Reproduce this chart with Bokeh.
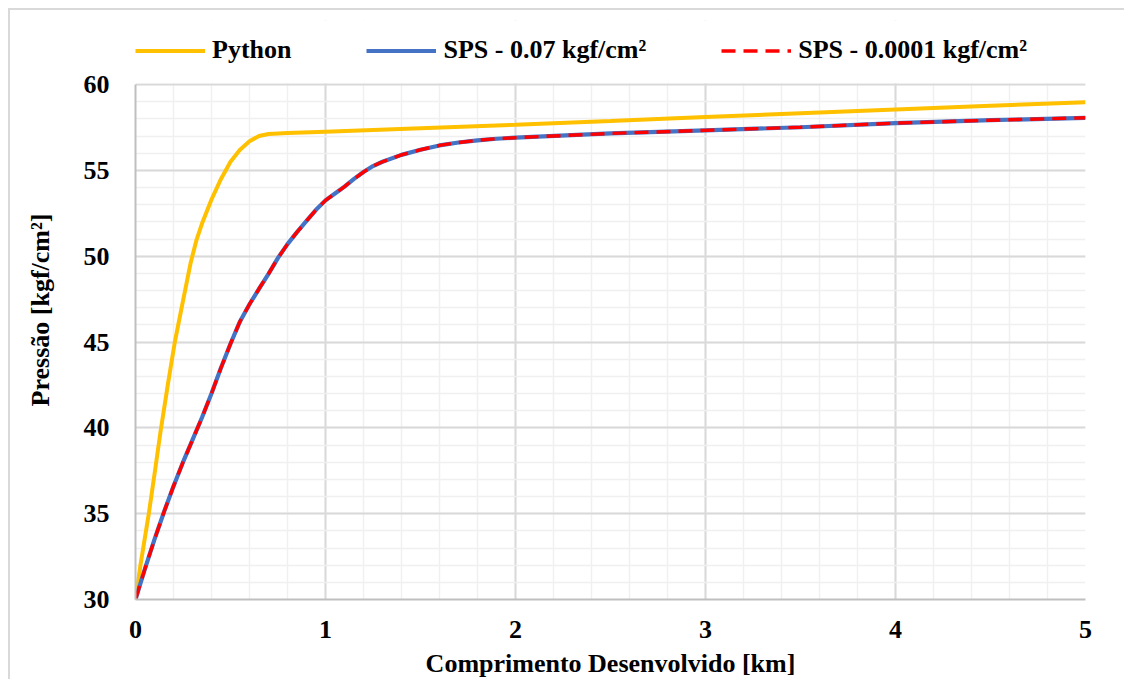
from bokeh.plotting import figure
from bokeh.models import Range1d, SingleIntervalTicker, Legend, LegendItem, BoxAnnotation
from bokeh.embed import file_html
from bokeh.resources import INLINE

# Python model
py_x = [0, 0.026, 0.07, 0.1, 0.132, 0.17, 0.207, 0.25, 0.29, 0.32, 0.35, 0.4, 0.45, 0.5,
        0.55, 0.6, 0.65, 0.7, 0.75, 0.8, 1.0, 1.5, 2.0, 2.5, 3.0, 3.5, 4.0, 4.5, 5.0]
py_y = [30, 32.0, 35, 37.3, 39.8, 42.5, 45, 47.4, 49.6, 50.9, 51.9, 53.3, 54.5, 55.5,
        56.2, 56.7, 57.0, 57.12, 57.15, 57.17, 57.25, 57.45, 57.65, 57.87, 58.1, 58.33, 58.55, 58.76, 58.97]

# SPS results (both tolerances coincide)
sps_x = [0, 0.05, 0.1, 0.15, 0.2, 0.25, 0.3, 0.35, 0.4, 0.45, 0.5, 0.55, 0.6, 0.65,
         0.7, 0.75, 0.8, 0.85, 0.9, 0.95, 1.0, 1.05, 1.1, 1.15, 1.2, 1.25, 1.3, 1.4,
         1.5, 1.6, 1.7, 1.8, 1.9, 2.0, 2.5, 3.0, 3.5, 4.0, 4.5, 5.0]
sps007_y = [30, 31.8, 33.5, 35.1, 36.6, 38.0, 39.3, 40.6, 42.0, 43.5, 44.9, 46.2, 47.2, 48.1,
            48.97, 49.9, 50.7, 51.4, 52.05, 52.7, 53.25, 53.65, 54.05, 54.5, 54.9, 55.25, 55.5, 55.9,
            56.2, 56.45, 56.62, 56.75, 56.84, 56.9, 57.15, 57.33, 57.51, 57.75, 57.92, 58.06]
sps00001_y = list(sps007_y)

labels = ["Python", "SPS - 0.07 kgf/cm²", "SPS - 0.0001 kgf/cm²"]
FONT = "Liberation Serif"
X_MIN, X_MAX = 0, 5
Y_MIN, Y_MAX = 30, 60

W, H = 1116, 671
BL, BT, BR, BB = 125, 10, 41, 82
PLOT_PX = 515                      # pixel height of the 30..60 span
frame_h = H - BT - BB
y_top = Y_MIN + (Y_MAX - Y_MIN) * frame_h / PLOT_PX   # extra room above 60 for the legend

p = figure(width=W, height=H, x_range=Range1d(X_MIN, X_MAX), y_range=Range1d(Y_MIN, y_top),
           output_backend="svg", toolbar_location=None,
           min_border_left=BL, min_border_top=BT, min_border_right=BR, min_border_bottom=BB)
p.styles = {"margin-left": "8px", "margin-top": "8px",
            "border-left": "2px solid #d9d9d9", "border-top": "2px solid #d9d9d9"}
p.outline_line_color = None
p.background_fill_color = "white"
p.border_fill_color = "white"

xt = SingleIntervalTicker(interval=1, num_minor_ticks=5)
yt = SingleIntervalTicker(interval=5, num_minor_ticks=5)
p.xaxis.ticker = xt
p.yaxis.ticker = yt
p.xgrid.ticker = xt
p.ygrid.ticker = yt
p.yaxis.bounds = (Y_MIN, Y_MAX)
p.ygrid.bounds = (Y_MIN, Y_MAX)

for g in (p.xgrid, p.ygrid):
    g.grid_line_color = "#d9d9d9"
    g.grid_line_width = 2
    g.minor_grid_line_color = "#f0f0f0"
    g.minor_grid_line_width = 1.5

for ax in (p.xaxis, p.yaxis):
    ax.axis_line_color = "#bfbfbf"
    ax.axis_line_width = 2
    ax.major_tick_line_color = None
    ax.minor_tick_line_color = None
    ax.major_tick_out = 0
    ax.major_tick_in = 0
    ax.major_label_text_font = FONT
    ax.major_label_text_font_style = "bold"
    ax.major_label_text_font_size = "26px"
    ax.major_label_text_color = "black"
    ax.axis_label_text_font = FONT
    ax.axis_label_text_font_style = "bold"
    ax.axis_label_text_font_size = "26px"
    ax.axis_label_text_color = "black"

p.xaxis.major_label_standoff = 17
p.yaxis.major_label_standoff = 22
p.yaxis.axis_label = "Pressão [kgf/cm²]"
p.yaxis.axis_label_standoff = 26
p.xaxis.axis_label = "Comprimento Desenvolvido [km]"
p.xaxis.axis_label_standoff = 8

# blank the area above the plotting region (legend lives there)
p.add_layout(BoxAnnotation(bottom=Y_MAX + 0.07, fill_color="white", fill_alpha=1,
                           line_color=None, level="underlay"))

r1 = p.line(py_x, py_y, line_color="#FFC000", line_width=4)
r2 = p.line(sps_x, sps007_y, line_color="#4472C4", line_width=4.2)
r3 = p.line(sps_x, sps00001_y, line_color="#FF0000", line_width=3.4, line_dash="14 8")

legend = Legend(items=[LegendItem(label=labels[0], renderers=[r1]),
                       LegendItem(label=labels[1], renderers=[r2]),
                       LegendItem(label=labels[2], renderers=[r3])],
                orientation="horizontal", location=(0, 534),
                glyph_width=70, glyph_height=29, label_height=29,
                label_standoff=7, spacing=75,
                padding=0, margin=0, border_line_color=None, background_fill_alpha=0,
                label_text_font=FONT, label_text_font_style="bold",
                label_text_font_size="26px", label_text_color="black")
p.add_layout(legend)

open("out.html", "w").write(file_html(p, INLINE))
